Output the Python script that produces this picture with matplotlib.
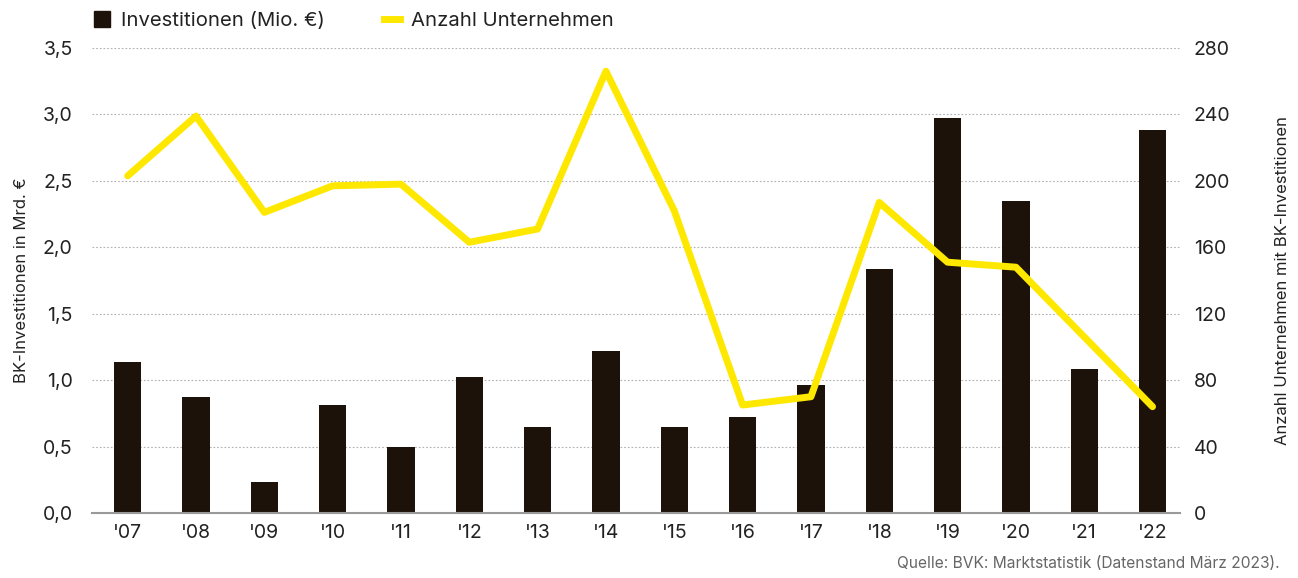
import matplotlib.pyplot as plt
import numpy as np
from matplotlib.lines import Line2D
from matplotlib.patches import Patch

plt.rcParams['font.family'] = ['Inter', 'DejaVu Sans']

years = ["'07", "'08", "'09", "'10", "'11", "'12", "'13", "'14",
         "'15", "'16", "'17", "'18", "'19", "'20", "'21", "'22"]
investitionen = [1.14, 0.87, 0.23, 0.81, 0.50, 1.02, 0.65, 1.22,
                 0.65, 0.72, 0.96, 1.84, 2.97, 2.35, 1.08, 2.88]
unternehmen = [203, 239, 181, 197, 198, 163, 171, 266,
               182, 65, 70, 187, 151, 148, 106, 64]

bar_color = '#1c120a'
line_color = '#ffe800'
text_color = '#222222'

fig = plt.figure(figsize=(12.98, 5.78), dpi=100)
ax = fig.add_axes([0.071, 0.1125, 0.838, 0.8045])
ax2 = ax.twinx()

x = np.arange(len(years))
ax.bar(x, investitionen, width=0.4, color=bar_color, zorder=2)
ax2.plot(x, unternehmen, color=line_color, lw=5, solid_capstyle='round', zorder=3)

ax.set_ylim(0, 3.5)
ax2.set_ylim(0, 280)
ax.set_xlim(-0.52, 15.4)

yt = np.arange(0, 3.51, 0.5)
ax.set_yticks(yt)
ax.set_yticklabels([f'{v:.1f}'.replace('.', ',') for v in yt])
ax2.set_yticks(np.arange(0, 281, 40))
ax.set_xticks(x)
ax.set_xticklabels(years)

ax.grid(axis='y', color='#b0b0b0', linestyle=(0, (1.5, 1.8)), lw=0.8, zorder=0)
ax.set_axisbelow(True)
ax2.set_zorder(ax.get_zorder() + 1)
ax2.patch.set_visible(False)

for a in (ax, ax2):
    for s in a.spines.values():
        s.set_visible(False)
    a.tick_params(length=0, labelsize=14, colors=text_color)
ax.spines['bottom'].set_visible(True)
ax.spines['bottom'].set_color('#999999')
ax.spines['bottom'].set_linewidth(1.5)
ax.tick_params(axis='x', pad=8)
ax.tick_params(axis='y', pad=14)
ax2.tick_params(axis='y', pad=10)

ax.set_ylabel('BK-Investitionen in Mrd. €', fontsize=12, color=text_color, labelpad=10)
ax2.set_ylabel('Anzahl Unternehmen mit BK-Investitionen', fontsize=12,
               color=text_color, labelpad=32)

handles = [Patch(color=bar_color), Line2D([0], [0], color=line_color, lw=5)]
fig.legend(handles, ['Investitionen (Mio. €)', 'Anzahl Unternehmen'],
           loc='upper left', bbox_to_anchor=(0.058, 1.012), ncol=2, frameon=False,
           fontsize=14.6, handlelength=0.8, handleheight=0.8, handletextpad=0.55,
           columnspacing=2.9, labelcolor=text_color)

fig.text(0.986, 0.012, 'Quelle: BVK: Marktstatistik (Datenstand März 2023).',
         ha='right', va='bottom', fontsize=11.2, color='#666666')

plt.savefig('out.png', dpi=100)
